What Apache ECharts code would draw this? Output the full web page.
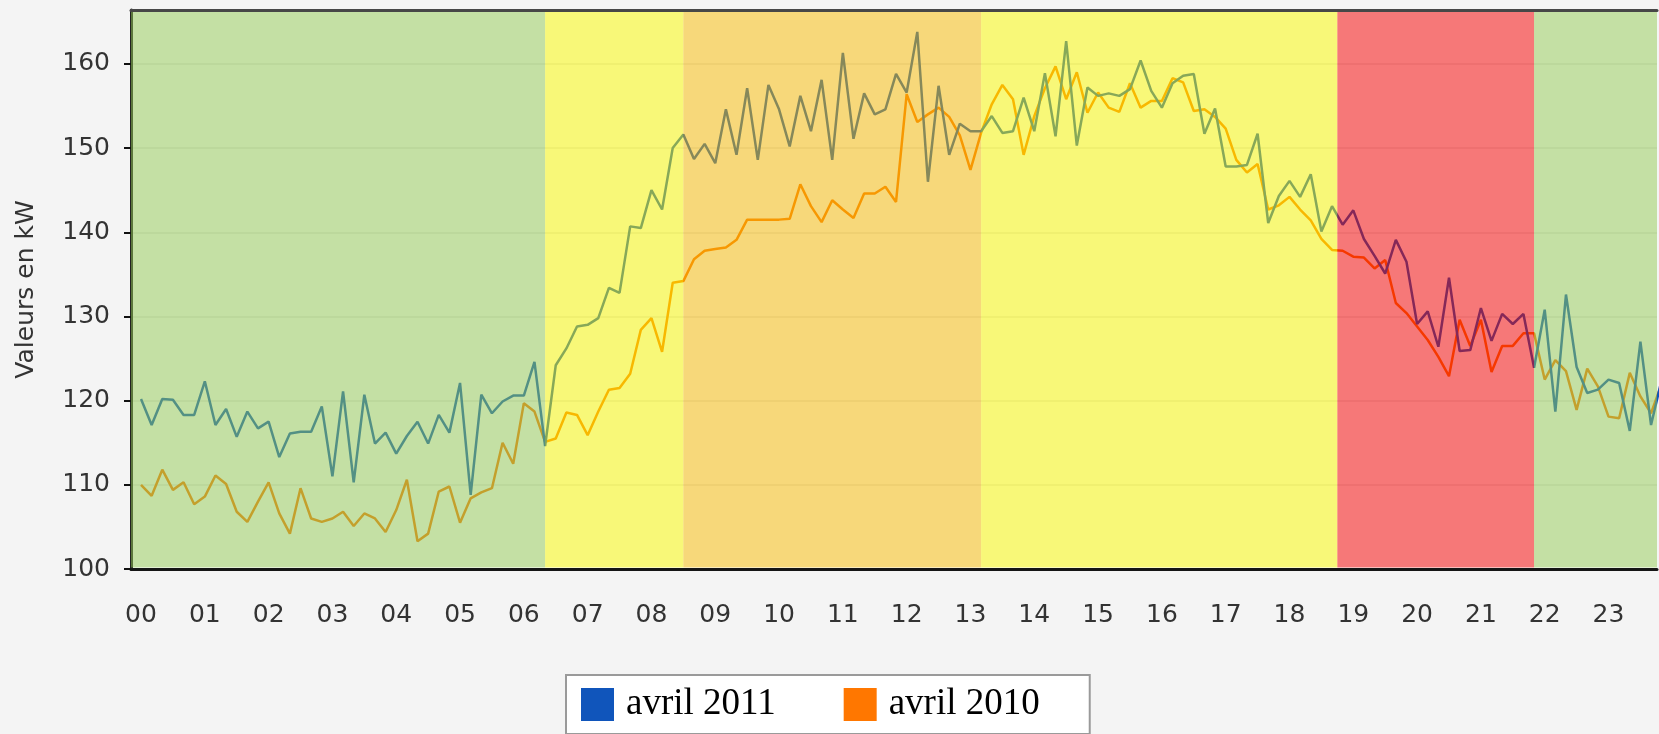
<!DOCTYPE html>
<html>
<head>
<meta charset="utf-8">
<script src="https://cdn.jsdelivr.net/npm/echarts@6/dist/echarts.min.js"></script>
<style>
  html, body { margin: 0; padding: 0; background: #f4f4f4; }
  #chart { width: 1659px; height: 734px; }
</style>
</head>
<body>
<div id="chart"></div>
<script>
// hour tick labels
const hourLabels = ["00", "01", "02", "03", "04", "05", "06", "07", "08", "09", "10", "11",
  "12", "13", "14", "15", "16", "17", "18", "19", "20", "21", "22", "23"];

// one reading every 10 minutes, from 00:00
const avril2011 = [
  120.2, 117.1, 120.2, 120.1, 118.3, 118.3, 122.3, 117.1, 119.0, 115.7, 118.7, 116.7,
  117.5, 113.3, 116.1, 116.3, 116.3, 119.3, 111.0, 121.1, 110.3, 120.7, 114.9, 116.2,
  113.7, 115.8, 117.5, 114.9, 118.3, 116.2, 122.1, 108.8, 120.7, 118.5, 119.9, 120.6,
  120.6, 124.6, 114.6, 124.2, 126.2, 128.8, 129.0, 129.8, 133.4, 132.8, 140.7, 140.5,
  145.0, 142.7, 150.0, 151.6, 148.7, 150.5, 148.2, 154.6, 149.2, 157.1, 148.6, 157.5,
  154.6, 150.2, 156.2, 152.0, 158.1, 148.6, 161.3, 151.1, 156.5, 154.0, 154.6, 158.8,
  156.6, 163.8, 146.0, 157.4, 149.2, 152.9, 152.0, 152.0, 153.8, 151.8, 152.0, 156.0,
  152.0, 158.9, 151.4, 162.7, 150.3, 157.2, 156.2, 156.5, 156.2, 157.0, 160.4, 156.8,
  154.8, 157.7, 158.6, 158.8, 151.7, 154.7, 147.8, 147.8, 148.0, 151.7, 141.1, 144.3,
  146.1, 144.2, 146.9, 140.1, 143.1, 140.9, 142.6, 139.2, 137.2, 135.1, 139.1, 136.5,
  129.1, 130.6, 126.4, 134.6, 125.9, 126.0, 131.0, 127.1, 130.3, 129.1, 130.3, 123.9,
  130.8, 118.7, 132.6, 124.0, 120.9, 121.3, 122.5, 122.1, 116.4, 127.0, 117.1, 122.5
];
const avril2010 = [
  110.0, 108.7, 111.8, 109.4, 110.3, 107.7, 108.6, 111.1, 110.1, 106.8, 105.6, 108.0,
  110.3, 106.6, 104.2, 109.6, 106.0, 105.6, 106.0, 106.8, 105.1, 106.6, 106.0, 104.4,
  107.0, 110.6, 103.3, 104.2, 109.2, 109.8, 105.5, 108.4, 109.1, 109.6, 115.0, 112.5,
  119.7, 118.7, 115.1, 115.5, 118.6, 118.3, 115.9, 118.7, 121.3, 121.5, 123.2, 128.4,
  129.8, 125.8, 134.0, 134.2, 136.8, 137.8, 138.0, 138.2, 139.1, 141.5, 141.5, 141.5,
  141.5, 141.6, 145.7, 143.1, 141.2, 143.8, 142.7, 141.7, 144.6, 144.6, 145.4, 143.6,
  156.4, 153.1, 154.0, 154.8, 153.7, 151.5, 147.4, 151.8, 155.2, 157.5, 155.8, 149.2,
  153.8, 157.1, 159.7, 155.8, 159.0, 154.2, 156.6, 154.8, 154.3, 157.7, 154.8, 155.6,
  155.6, 158.3, 157.8, 154.4, 154.6, 153.7, 152.3, 148.6, 147.1, 148.1, 142.7, 143.2,
  144.2, 142.7, 141.4, 139.2, 137.9, 137.8, 137.1, 137.0, 135.7, 136.7, 131.6, 130.4,
  128.8, 127.2, 125.2, 122.9, 129.6, 126.5, 129.6, 123.4, 126.5, 126.5, 128.0, 128.0,
  122.5, 124.8, 123.5, 118.9, 123.8, 121.7, 118.1, 117.9, 123.3, 120.5, 118.5, 122.0
];

// tariff periods shown as coloured bands
const periodStarts = ["00:00", "06:20", "08:30", "13:10", "18:45", "21:50"];
const periodEnds   = ["06:20", "08:30", "13:10", "18:45", "21:50", "24:00"];
const periodKinds  = ["creuse", "pleine", "pointe", "pleine", "hiver", "creuse"];

const bandColors = {
  creuse: "rgba(144,196,83,0.53)",
  pleine: "rgba(242,242,0,0.53)",
  pointe: "rgba(240,181,4,0.53)",
  hiver:  "rgba(238,0,0,0.53)"
};

const xMin = -0.157;
const xMax = 23.76;
const yMin = 100;
const yMax = 166.4;

function toHours(s) {
  const p = s.split(":");
  return +p[0] + (+p[1]) / 60;
}
function clampX(h) {
  return Math.min(xMax, Math.max(xMin, h));
}

const bands = periodStarts.map((s, k) => {
  const from = toHours(s) === 0 ? xMin : clampX(toHours(s));
  const to = clampX(toHours(periodEnds[k]));
  return [
    { xAxis: from, yAxis: yMin + 0.18, itemStyle: { color: bandColors[periodKinds[k]] } },
    { xAxis: to, yAxis: yMax - 0.25 }
  ];
});

const labelFont = "DejaVu Sans";
const chart = echarts.init(document.getElementById("chart"));

chart.setOption({
  animation: false,
  backgroundColor: "#f4f4f4",
  grid: {
    left: 131,
    top: 10,
    right: 2,
    bottom: 165,
    show: true,
    backgroundColor: "#ffffff",
    borderWidth: 0
  },
  legend: {
    data: ["avril 2011", "avril 2010"],
    left: 566,
    top: 675,
    icon: "rect",
    itemWidth: 33,
    itemHeight: 33,
    itemGap: 68,
    padding: [11, 50, 11, 15],
    backgroundColor: "#ffffff",
    borderColor: "#9a9a9a",
    borderWidth: 2,
    borderRadius: 0,
    selectedMode: false,
    textStyle: {
      fontFamily: "Liberation Serif",
      fontSize: 37,
      color: "#000",
      padding: [0, 0, 0, 7]
    }
  },
  xAxis: [
    {
      type: "value",
      min: xMin,
      max: xMax,
      axisLine: { show: true, onZero: false, lineStyle: { color: "#151515", width: 3 } },
      axisTick: { show: false },
      splitLine: { show: false },
      axisLabel: {
        customValues: hourLabels.map((_, h) => h),
        formatter: (v) => hourLabels[Math.round(v)],
        fontFamily: labelFont,
        fontSize: 25,
        color: "#333",
        margin: 34
      }
    },
    {
      type: "value",
      position: "top",
      min: xMin,
      max: xMax,
      axisLine: { show: true, onZero: false, lineStyle: { color: "#474747", width: 3 } },
      axisTick: { show: false },
      axisLabel: { show: false },
      splitLine: { show: false }
    }
  ],
  yAxis: {
    type: "value",
    min: yMin,
    max: yMax,
    interval: 10,
    name: "Valeurs en kW",
    nameLocation: "middle",
    nameGap: 92,
    nameRotate: 90,
    nameTextStyle: { fontFamily: labelFont, fontSize: 25, color: "#333" },
    axisLine: { show: true, onZero: false, lineStyle: { color: "#222", width: 3 } },
    axisTick: {
      show: true,
      length: 7,
      customValues: [100, 110, 120, 130, 140, 150, 160],
      lineStyle: { color: "#111", width: 2 }
    },
    axisLabel: {
      customValues: [100, 110, 120, 130, 140, 150, 160],
      fontFamily: labelFont,
      fontSize: 25,
      color: "#333",
      margin: 21
    },
    splitLine: { show: true, lineStyle: { color: "#eeeeee", width: 2 } }
  },
  series: [
    {
      name: "avril 2010",
      type: "line",
      data: avril2010.map((v, i) => [i / 6, v]),
      showSymbol: false,
      color: "#ff7700",
      lineStyle: { color: "#ff7700", width: 2.5 },
      z: 3
    },
    {
      name: "avril 2011",
      type: "line",
      data: avril2011.map((v, i) => [i / 6, v]),
      showSymbol: false,
      color: "#1055bb",
      lineStyle: { color: "#1055bb", width: 2.5 },
      z: 4
    },
    {
      name: "periodes",
      type: "line",
      data: [],
      z: 10,
      silent: true,
      markArea: { silent: true, z: 20, data: bands }
    }
  ]
});
</script>
</body>
</html>
